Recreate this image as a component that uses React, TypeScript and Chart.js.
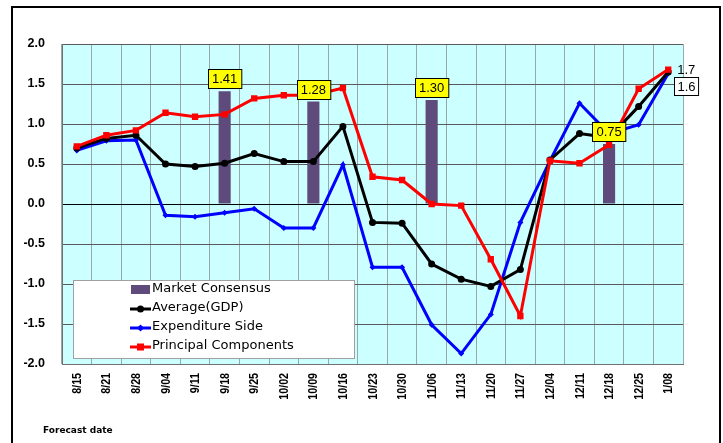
import React, { useEffect, useRef } from 'react';
import { Chart, registerables } from 'chart.js';
Chart.register(...registerables);

const categories = ['8/15', '8/21', '8/28', '9/04', '9/11', '9/18', '9/25', '10/02', '10/09', '10/16', '10/23', '10/30', '11/06', '11/13', '11/20', '11/27', '12/04', '12/11', '12/18', '12/25', '1/08'];
const marketConsensus = [null, null, null, null, null, 1.41, null, null, 1.28, null, null, null, 1.30, null, null, null, null, null, 0.75, null, null];
const averageGDP = [0.70, 0.82, 0.86, 0.50, 0.47, 0.51, 0.63, 0.53, 0.53, 0.97, -0.23, -0.24, -0.75, -0.94, -1.03, -0.82, 0.55, 0.88, 0.83, 1.22, 1.65];
const expenditureSide = [0.67, 0.79, 0.80, -0.14, -0.16, -0.11, -0.06, -0.30, -0.30, 0.49, -0.79, -0.79, -1.51, -1.87, -1.38, -0.23, 0.54, 1.26, 0.88, 0.99, 1.63];
const principalComponents = [0.72, 0.86, 0.92, 1.14, 1.09, 1.12, 1.32, 1.36, 1.36, 1.45, 0.34, 0.30, 0.00, -0.02, -0.69, -1.40, 0.54, 0.51, 0.74, 1.44, 1.68];
const endLabelPrincipal = '1.7';
const endLabelAverage = '1.6';
const legendLabels = ['Market Consensus', 'Average(GDP)', 'Expenditure Side', 'Principal Components'];

const BAR_COLOR = '#5E4B7C';
const BLACK = '#000000';
const BLUE = '#0000FF';
const RED = '#FF0000';

const decorPlugin = {
  id: 'decor',
  beforeDraw(chart: any) {
    const { ctx, chartArea } = chart;
    ctx.save();
    ctx.fillStyle = '#FFFFFF';
    ctx.fillRect(0, 0, chart.width, chart.height);
    ctx.strokeStyle = '#000000';
    ctx.lineWidth = 2;
    ctx.strokeRect(12, 7, 708, 460);
    ctx.fillStyle = '#CCFFFF';
    ctx.fillRect(chartArea.left, chartArea.top, chartArea.right - chartArea.left, chartArea.bottom - chartArea.top);
    ctx.restore();
  },
  afterDraw(chart: any) {
    const { ctx } = chart;
    ctx.save();
    // x tick labels (bold, slightly condensed, rotated)
    const xs = chart.scales.x;
    ctx.font = 'bold 13px "Liberation Sans", Arial, sans-serif';
    ctx.fillStyle = '#000000';
    ctx.textAlign = 'right';
    ctx.textBaseline = 'middle';
    categories.forEach((c, i) => {
      const x = xs.getPixelForValue(i);
      ctx.save();
      ctx.translate(x + 0.5, chart.chartArea.bottom + 9);
      ctx.rotate(-Math.PI / 2);
      ctx.scale(0.82, 1);
      ctx.fillText(c, 0, 0);
      ctx.restore();
    });

    // bar value labels
    const barMeta = chart.getDatasetMeta(0);
    ctx.font = '13px "Liberation Sans", Arial, sans-serif';
    ctx.textAlign = 'center';
    ctx.textBaseline = 'middle';
    marketConsensus.forEach((v, i) => {
      if (v === null) return;
      const el = barMeta.data[i];
      const txt = (v as number).toFixed(2);
      const w = ctx.measureText(txt).width + 8;
      const h = 19;
      const bx = Math.round(el.x - w / 2) + 0.5;
      const by = Math.round(el.y - 3 - h) + 0.5;
      ctx.fillStyle = '#FFFF00';
      ctx.fillRect(bx, by, w, h);
      ctx.strokeStyle = '#000000';
      ctx.lineWidth = 1;
      ctx.strokeRect(bx, by, w, h);
      ctx.fillStyle = '#000000';
      ctx.fillText(txt, el.x, by + h / 2 + 0.5);
    });
    // end labels
    const redMeta = chart.getDatasetMeta(3);
    const blackMeta = chart.getDatasetMeta(2);
    const rp = redMeta.data[redMeta.data.length - 1];
    const bp = blackMeta.data[blackMeta.data.length - 1];
    ctx.textAlign = 'left';
    ctx.fillStyle = '#000000';
    ctx.fillText(endLabelPrincipal, rp.x + 9, rp.y + 1);
    const w2 = ctx.measureText(endLabelAverage).width + 6;
    const bx2 = Math.round(bp.x + 6) + 0.5;
    const by2 = Math.round(bp.y + 5) + 0.5;
    ctx.fillStyle = '#FFFFFF';
    ctx.fillRect(bx2, by2, w2, 18);
    ctx.strokeStyle = '#000000';
    ctx.strokeRect(bx2, by2, w2, 18);
    ctx.fillStyle = '#000000';
    ctx.fillText(endLabelAverage, bx2 + 3, by2 + 9.5);

    // legend
    const lx = 73.5, ly = 280.5, lw = 281, lh = 78;
    ctx.fillStyle = '#FFFFFF';
    ctx.fillRect(lx, ly, lw, lh);
    ctx.strokeStyle = '#A0A0A0';
    ctx.lineWidth = 1;
    ctx.strokeRect(lx, ly, lw, lh);
    const rows = [289, 308, 327, 346];
    ctx.font = '13px "DejaVu Sans", Verdana, sans-serif';
    ctx.textBaseline = 'middle';
    ctx.textAlign = 'left';
    legendLabels.forEach((label, i) => {
      const y = rows[i];
      if (i === 0) {
        ctx.fillStyle = BAR_COLOR;
        ctx.fillRect(131, y - 4, 19, 9);
      } else {
        const col = i === 1 ? BLACK : i === 2 ? BLUE : RED;
        ctx.strokeStyle = col;
        ctx.lineWidth = 3;
        ctx.beginPath();
        ctx.moveTo(130, y + 1);
        ctx.lineTo(151, y + 1);
        ctx.stroke();
        ctx.fillStyle = col;
        if (i === 1) {
          ctx.beginPath();
          ctx.arc(140.5, y + 1, 3.5, 0, Math.PI * 2);
          ctx.fill();
        } else if (i === 2) {
          ctx.beginPath();
          ctx.moveTo(140.5, y - 2.5);
          ctx.lineTo(144, y + 1);
          ctx.lineTo(140.5, y + 4.5);
          ctx.lineTo(137, y + 1);
          ctx.closePath();
          ctx.fill();
        } else {
          ctx.fillRect(137, y - 2.5, 7, 7);
        }
      }
      ctx.fillStyle = '#000000';
      ctx.fillText(label, 152, y);
    });

    // axis title
    ctx.font = 'bold 9px "DejaVu Sans", Verdana, sans-serif';
    ctx.fillText('Forecast date', 43, 431);
    ctx.restore();
  },
};

export default function App() {
  const ref = useRef<HTMLCanvasElement | null>(null);
  useEffect(() => {
    document.body.style.margin = '0';
    const canvas = ref.current!;
    const chart = new Chart(canvas, {
      type: 'bar',
      data: {
        labels: categories,
        datasets: [
          {
            type: 'bar',
            label: legendLabels[0],
            data: marketConsensus as any,
            backgroundColor: BAR_COLOR,
            barPercentage: 0.41,
            categoryPercentage: 1,
            order: 10,
          },
          {
            type: 'line',
            label: legendLabels[2],
            data: expenditureSide,
            borderColor: BLUE,
            backgroundColor: BLUE,
            borderWidth: 3,
            pointStyle: 'rectRot',
            pointRadius: 3,
            pointBorderWidth: 0,
            tension: 0,
            order: 3,
          },
          {
            type: 'line',
            label: legendLabels[1],
            data: averageGDP,
            borderColor: BLACK,
            backgroundColor: BLACK,
            borderWidth: 3,
            pointStyle: 'circle',
            pointRadius: 3.5,
            pointBorderWidth: 0,
            tension: 0,
            order: 2,
          },
          {
            type: 'line',
            label: legendLabels[3],
            data: principalComponents,
            borderColor: RED,
            backgroundColor: RED,
            borderWidth: 3,
            pointStyle: 'rect',
            pointRadius: 4.5,
            pointBorderWidth: 0,
            tension: 0,
            order: 1,
          },
        ],
      },
      options: {
        responsive: false,
        animation: false,
        devicePixelRatio: 1,
        layout: { padding: { left: 12, top: 44, right: 40, bottom: 38 } },
        plugins: { legend: { display: false }, tooltip: { enabled: false }, title: { display: false } },
        scales: {
          x: {
            offset: true,
            grid: { color: '#98A8A8', lineWidth: 1, drawTicks: false, offset: true },
            border: { color: '#707070', width: 1 },
            ticks: {
              autoSkip: false,
              maxRotation: 90,
              minRotation: 90,
              padding: 9,
              color: 'rgba(0,0,0,0)',
              font: { family: '"Liberation Sans", Arial, sans-serif', size: 11, weight: 'bold' },
            },
            afterFit: (s: any) => { s.height = 41; },
          },
          y: {
            min: -2,
            max: 2,
            grid: {
              drawTicks: false,
              color: (c: any) => (c.tick && c.tick.value === 0 ? '#000000' : '#5A5A5A'),
            },
            border: { color: '#707070', width: 1 },
            ticks: {
              stepSize: 0.5,
              padding: 17,
              color: '#000000',
              font: { family: '"Liberation Sans", Arial, sans-serif', size: 12.5, weight: 'bold' },
              callback: (v: any) => Number(v).toFixed(1),
            },
            afterFit: (s: any) => { s.width = 50; },
          },
        },
      },
      plugins: [decorPlugin],
    });
    return () => chart.destroy();
  }, []);
  return <canvas ref={ref} width={723} height={443} style={{ display: 'block', width: 723, height: 443 }} />;
}
